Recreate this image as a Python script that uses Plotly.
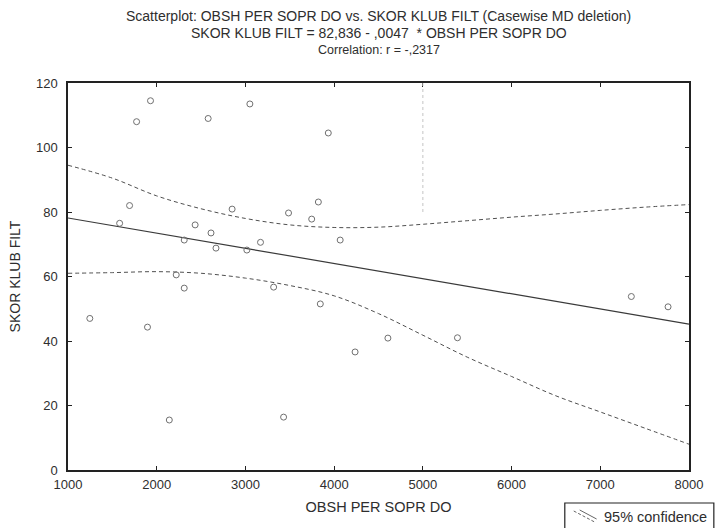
import plotly.graph_objects as go

# Data
obsh = [1246, 1582, 1694, 1773, 1896, 1930, 2142, 2220, 2310, 2310, 2433, 2580,
        2612, 2668, 2850, 3016, 3050, 3170, 3318, 3430, 3486, 3747, 3822, 3844,
        3934, 4068, 4236, 4606, 5390, 7350, 7764]
skor = [47.0, 76.5, 82.0, 108.0, 44.3, 114.5, 15.5, 60.5, 71.3, 56.4, 76.0, 109.0,
        73.5, 68.8, 80.9, 68.2, 113.5, 70.6, 56.7, 16.4, 79.7, 77.8, 83.1, 51.5,
        104.5, 71.3, 36.6, 40.9, 41.0, 53.8, 50.6]

intercept = 82.836
slope = -0.0047
line_x = [1000, 8000]

ci_x = [1000, 1500, 2000, 2500, 3000, 3500, 4000, 4500, 5000, 5500, 6000, 6500, 7000, 7500, 8000]
ci_upper = [94.5, 90.5, 85.0, 81.0, 78.0, 76.0, 75.2, 75.3, 76.2, 77.3, 78.4, 79.4, 80.5, 81.5, 82.3]
ci_lower = [61.0, 61.2, 61.5, 61.0, 59.5, 57.2, 54.0, 48.5, 41.8, 35.0, 29.0, 23.0, 18.0, 13.0, 8.0]

x_ticks = [1000, 2000, 3000, 4000, 5000, 6000, 7000, 8000]
y_ticks = [0, 20, 40, 60, 80, 100, 120]

title_lines = [
    "Scatterplot: OBSH PER SOPR DO vs. SKOR KLUB FILT (Casewise MD deletion)",
    "SKOR KLUB FILT = 82,836 - ,0047  * OBSH PER SOPR DO",
    "Correlation: r = -,2317",
]
title_sizes = [14, 14, 12.5]
legend_label = "95% confidence"

FONT = "Liberation Sans, Arial, sans-serif"
TXT = "#2e2e2e"

# plot-area geometry (pixels) used to place decorations
L, R, T, B = 68, 693, 83, 470
W, H = R - L, B - T


def px(xp):
    return (xp - L) / W


def py(yp):
    return (B - yp) / H


fig = go.Figure()

for ys in (ci_upper, ci_lower):
    fig.add_trace(go.Scatter(
        x=ci_x, y=ys, mode="lines",
        line=dict(color="#505050", width=1, dash="4px,3px", shape="spline"),
        showlegend=False, hoverinfo="skip"))
fig.add_trace(go.Scatter(
    x=line_x, y=[intercept + slope * v for v in line_x], mode="lines",
    line=dict(color="#3a3a3a", width=1.2), showlegend=False))
fig.add_trace(go.Scatter(
    x=obsh, y=skor, mode="markers",
    marker=dict(symbol="circle-open", size=6, color="#707070", line=dict(width=1)),
    showlegend=False))

# faint dotted reference line visible in the scan
fig.add_shape(type="line", x0=5000, x1=5000, y0=80, y1=120, xref="x", yref="y",
              line=dict(color="#c4c4c4", width=1, dash="dot"))

for i, t in enumerate(title_lines):
    fig.add_annotation(text=t, xref="paper", yref="paper", x=0.5, y=py(16 + 17 * i),
                       xanchor="center", yanchor="middle", showarrow=False,
                       font=dict(family=FONT, size=title_sizes[i], color=TXT))

# legend box (custom, bottom-right, partly outside the page like the scan)
fig.add_shape(type="rect", xref="paper", yref="paper",
              x0=px(568), x1=px(718), y0=py(503), y1=py(532),
              line=dict(color="#222222", width=1.2), fillcolor="white", layer="above")
fig.add_shape(type="line", xref="paper", yref="paper",
              x0=px(577), y0=py(511), x1=px(598), y1=py(522),
              line=dict(color="#666666", width=1, dash="3px,2px"), layer="above")
fig.add_shape(type="line", xref="paper", yref="paper",
              x0=px(583), y0=py(510), x1=px(600), y1=py(519),
              line=dict(color="#666666", width=1), layer="above")
fig.add_annotation(text=legend_label, xref="paper", yref="paper",
                   x=px(605), y=py(517), xanchor="left", yanchor="middle", showarrow=False,
                   font=dict(family=FONT, size=14.5, color=TXT))

axis_common = dict(showline=True, linecolor="#222222", linewidth=1.5, mirror="ticks",
                   ticks="inside", ticklen=4, tickcolor="#222222", showgrid=False, zeroline=False,
                   tickfont=dict(family=FONT, size=13, color=TXT))

fig.update_xaxes(range=[1000, 8000], tickvals=x_ticks, ticktext=[str(v) for v in x_ticks],
                 ticklabelstandoff=2,
                 title=dict(text="OBSH PER SOPR DO", font=dict(family=FONT, size=14.5, color=TXT), standoff=11),
                 **axis_common)
fig.update_yaxes(range=[0, 120], tickvals=y_ticks, ticktext=[str(v) for v in y_ticks],
                 ticklabelstandoff=6,
                 title=dict(text="SKOR KLUB FILT", font=dict(family=FONT, size=14, color=TXT), standoff=12),
                 **axis_common)

fig.update_layout(
    width=715, height=528,
    margin=dict(l=L, r=715 - R, t=T, b=528 - B),
    paper_bgcolor="white", plot_bgcolor="white",
    showlegend=False,
)

fig.write_html("out.html", config={"displayModeBar": False},
               post_script="document.body.style.margin='0';")
